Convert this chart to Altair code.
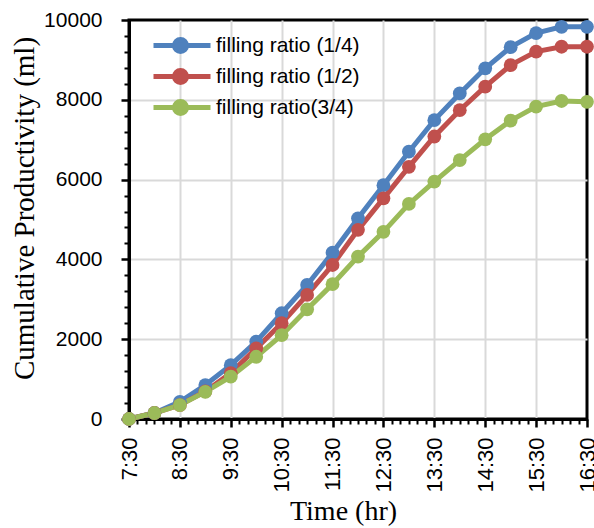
import altair as alt
import pandas as pd

# ---- data ----
times = ["7:30", "8:00", "8:30", "9:00", "9:30", "10:00", "10:30", "11:00", "11:30",
         "12:00", "12:30", "13:00", "13:30", "14:00", "14:30", "15:00", "15:30", "16:00", "16:30"]
ratio_quarter = [0, 150, 430, 850, 1350, 1940, 2650, 3360, 4170, 5030, 5860, 6700,
                 7490, 8160, 8790, 9320, 9670, 9830, 9830]
ratio_half = [0, 150, 350, 690, 1150, 1770, 2400, 3110, 3860, 4740, 5530, 6320,
              7080, 7740, 8330, 8870, 9210, 9330, 9330]
ratio_three_quarter = [0, 150, 350, 680, 1060, 1560, 2100, 2750, 3380, 4070, 4690, 5390,
                       5950, 6490, 7010, 7480, 7830, 7970, 7950]
series_names = ["filling ratio (1/4)", "filling ratio (1/2)", "filling ratio(3/4)"]
series_colors = ["#4F81BD", "#C0504D", "#9BBB59"]


def to_hours(t):
    h, m = t.split(":")
    return int(h) + int(m) / 60.0


rows = []
for name, vals in zip(series_names, [ratio_quarter, ratio_half, ratio_three_quarter]):
    for t, v in zip(times, vals):
        rows.append({"hours": to_hours(t), "value": v, "series": name})
df = pd.DataFrame(rows)

W, H = 458, 399
tick_x = [7.5 + i / 6.0 for i in range(0, 55)]     # every 10 min, labelled each hour
tick_y = list(range(0, 10001, 400))                 # every 400, labelled each 2000

x_major = "abs((datum.value - 7.5) - round(datum.value - 7.5)) < 0.01"
y_major = "datum.value % 2000 === 0"

x_axis = alt.Axis(values=tick_x,
                  labelExpr=f"{x_major} ? floor(datum.value) + ':30' : ''",
                  labelAngle=270, labelFont="Liberation Sans", labelFontSize=22,
                  labelColor="black", labelPadding=10,
                  ticks=True, tickColor="black",
                  tickSize={"condition": {"test": x_major, "value": 8}, "value": 5},
                  tickWidth={"condition": {"test": x_major, "value": 2.5}, "value": 2},
                  domain=True, domainColor="black", domainWidth=3,
                  grid=True, gridColor="#d9d9d9", gridWidth=2,
                  gridOpacity={"condition": {"test": f"!({x_major}) || datum.value <= 7.5 || datum.value >= 16.5",
                                             "value": 0}, "value": 1},
                  title="Time (hr)", titleFont="Liberation Serif", titleFontSize=28,
                  titleFontWeight="normal", titleColor="black",
                  titleX=214, titleY=100, titleAlign="center",
                  titleBaseline="alphabetic")
y_axis = alt.Axis(values=tick_y,
                  labelExpr=f"{y_major} ? format(datum.value, 'd') : ''",
                  labelFont="Liberation Sans", labelFontSize=21, labelColor="black",
                  labelPadding=19, labelBaseline="middle",
                  ticks=True, tickColor="black",
                  tickSize={"condition": {"test": y_major, "value": 8}, "value": 5},
                  tickWidth={"condition": {"test": y_major, "value": 2.5}, "value": 2},
                  domain=True, domainColor="black", domainWidth=3,
                  grid=True, gridColor="#d9d9d9", gridWidth=2,
                  gridOpacity={"condition": {"test": f"!({y_major}) || datum.value <= 0 || datum.value >= 10000",
                                             "value": 0}, "value": 1},
                  title="Cumulative Productivity (ml)", titleFont="Liberation Serif",
                  titleFontSize=29, titleFontWeight="normal", titleColor="black",
                  titleAngle=270, titleX=-96, titleY=188, titleAlign="center",
                  titleBaseline="alphabetic")

legend_symbol = ("M-4.7,0L1,0"
                 "M-2.6,0A0.6,0.6,0,1,1,-1.4,0A0.6,0.6,0,1,1,-2.6,0Z")

chart = alt.Chart(df).mark_line(
    strokeWidth=5,
    point=alt.OverlayMarkDef(filled=True, size=190, opacity=1),
).encode(
    x=alt.X("hours:Q", scale=alt.Scale(domain=[7.5, 16.5], nice=False, zero=False),
            axis=x_axis),
    y=alt.Y("value:Q", scale=alt.Scale(domain=[0, 10000], nice=False), axis=y_axis),
    color=alt.Color("series:N",
                    scale=alt.Scale(domain=series_names, range=series_colors),
                    legend=alt.Legend(title=None, orient="none", legendX=59, legendY=13,
                                      direction="vertical", labelFont="Liberation Sans",
                                      labelFontSize=21, labelColor="black",
                                      symbolType=legend_symbol, symbolSize=400,
                                      symbolStrokeWidth=5, labelOffset=3,
                                      rowPadding=-2, padding=0)),
).properties(
    width=W, height=H,
    autosize=alt.AutoSizeParams(type="none"),
    padding={"left": 129, "top": 20, "right": 7, "bottom": 109},
    background="white",
).configure_view(stroke="black", strokeWidth=3)

chart.save("out.html", embed_options={"renderer": "svg", "actions": False})
